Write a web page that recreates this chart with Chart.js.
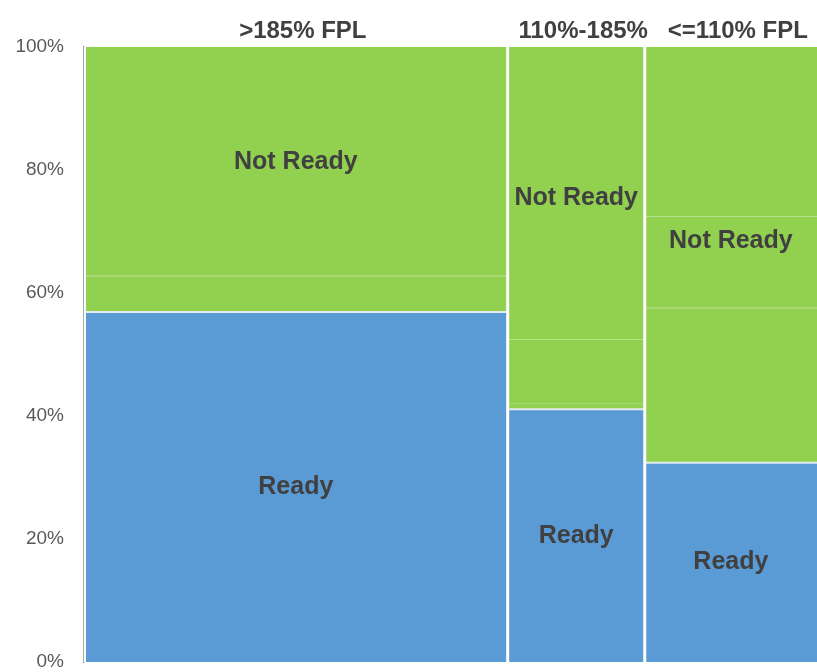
<!DOCTYPE html>
<html>
<head>
<meta charset="utf-8">
<script src="https://cdn.jsdelivr.net/npm/chart.js@4/dist/chart.umd.min.js"></script>
<style>
  body { margin: 0; background: #fff; }
</style>
</head>
<body>
<canvas id="chart" width="817" height="672"></canvas>
<script>
"use strict"

// data
const groups = [">185% FPL", "110%-185%", "<=110% FPL"];
const groupShare = [57.8, 18.7, 23.5];          // column widths, % of children
const readyPct = [56.9, 41.1, 32.4];            // Ready share in each column
const notReadyBreaks = [[62.8], [42.1, 52.5], [57.6, 72.5]]; // faint sub-segment lines
const notReadyLabelAt = [81.3, 75.4, 68.5];     // where the Not Ready label sits
const yTicks = [0, 20, 40, 60, 80, 100];

const blue = "#5b9bd5";
const green = "#92d050";

// column edges on the x scale
let edges = [0];
for (let i = 0; i < groupShare.length; i++) {
    edges.push(edges[i] + groupShare[i]);
}

function rect(x0, x1, lo, hi, color) {
    return {
        data: [{x: x0, y: hi}, {x: x1, y: hi}],
        fill: {value: lo},
        backgroundColor: color,
        borderWidth: 0,
        pointRadius: 0,
        tension: 0
    };
}

const datasets = [];
for (let i = 0; i < groups.length; i++) {
    datasets.push(rect(edges[i], edges[i + 1], 0, readyPct[i], blue));
    const cuts = [readyPct[i]].concat(notReadyBreaks[i], [100]);
    for (let j = 0; j < cuts.length - 1; j++) {
        datasets.push(rect(edges[i], edges[i + 1], cuts[j], cuts[j + 1], green));
    }
}

const mosaicDecor = {
    id: "mosaicDecor",
    afterDatasetsDraw(chart) {
        const ctx = chart.ctx;
        const x = chart.scales.x;
        const y = chart.scales.y;
        const area = chart.chartArea;
        ctx.save();

        // faint lines between green sub-segments
        ctx.strokeStyle = "rgba(255,255,255,0.2)";
        ctx.lineWidth = 1;
        for (let i = 0; i < groups.length; i++) {
            notReadyBreaks[i].forEach(v => {
                const py = Math.round(y.getPixelForValue(v)) + 0.5;
                ctx.beginPath();
                ctx.moveTo(x.getPixelForValue(edges[i]), py);
                ctx.lineTo(x.getPixelForValue(edges[i + 1]), py);
                ctx.stroke();
            });
        }

        // light line between Ready and Not Ready
        ctx.strokeStyle = "#e4ebf1";
        ctx.lineWidth = 2;
        for (let i = 0; i < groups.length; i++) {
            const py = y.getPixelForValue(readyPct[i]);
            ctx.beginPath();
            ctx.moveTo(x.getPixelForValue(edges[i]), py);
            ctx.lineTo(x.getPixelForValue(edges[i + 1]), py);
            ctx.stroke();
        }

        // white gaps between columns
        ctx.strokeStyle = "#ffffff";
        ctx.lineWidth = 3;
        for (let i = 1; i < edges.length - 1; i++) {
            const px = x.getPixelForValue(edges[i]);
            ctx.beginPath();
            ctx.moveTo(px, area.top - 1);
            ctx.lineTo(px, area.bottom + 1);
            ctx.stroke();
        }
        ctx.lineWidth = 2;
        ctx.beginPath();
        ctx.moveTo(area.left + 1, area.top);
        ctx.lineTo(area.left + 1, area.bottom);
        ctx.stroke();

        // labels
        ctx.fillStyle = "#404040";
        ctx.textAlign = "center";
        ctx.textBaseline = "middle";
        for (let i = 0; i < groups.length; i++) {
            const cx = x.getPixelForValue((edges[i] + edges[i + 1]) / 2);
            ctx.font = "bold 25px 'Liberation Sans', Arial, sans-serif";
            ctx.fillText("Ready", cx, y.getPixelForValue(readyPct[i] / 2));
            ctx.fillText("Not Ready", cx, y.getPixelForValue(notReadyLabelAt[i]));
            ctx.font = "bold 24px 'Liberation Sans', Arial, sans-serif";
            ctx.fillText(groups[i], cx + 7, area.top - 16);
        }
        ctx.restore();
    }
};

const config = {
    type: "line",
    data: {datasets: datasets},
    options: {
        responsive: false,
        animation: false,
        layout: {padding: {top: 47, bottom: 10, left: 0, right: 0}},
        plugins: {
            legend: {display: false},
            tooltip: {enabled: false}
        },
        scales: {
            x: {
                type: "linear",
                min: 0,
                max: 100,
                display: false
            },
            y: {
                min: 0,
                max: 100,
                z: 1,
                afterBuildTicks: scale => {
                    scale.ticks = yTicks.map(v => ({value: v}));
                },
                afterFit: scale => {
                    scale.width = 84;
                    scale.paddingTop = 0;
                    scale.paddingBottom = 0;
                },
                grid: {display: false, drawTicks: false},
                border: {display: true, color: "#a6a6a6", width: 1.5},
                ticks: {
                    padding: 20,
                    color: "#595959",
                    font: {family: "'Liberation Sans', Arial, sans-serif", size: 19},
                    callback: v => v + "%"
                }
            }
        }
    },
    plugins: [mosaicDecor]
};

new Chart(document.getElementById("chart"), config);
</script>
</body>
</html>
